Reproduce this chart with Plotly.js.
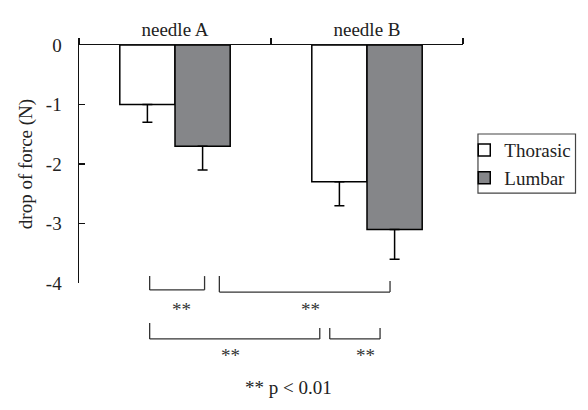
<!DOCTYPE html>
<html>
<head>
<meta charset="utf-8">
<script src="https://cdn.plot.ly/plotly-3.0.1.min.js"></script>
<style>html,body{margin:0;padding:0;background:#fff;}#chart{width:588px;height:410px;}</style>
</head>
<body>
<div id="chart"></div>
<script>
// ---- data ----
var categories = ['needle A', 'needle B'];
var thorasicValues = [-1.0, -2.3];
var thorasicErrors = [0.3, 0.4];
var lumbarValues = [-1.7, -3.1];
var lumbarErrors = [0.4, 0.5];
var yTickVals = [0, -1, -2, -3, -4];
var yTickText = ['0', '-1', '-2', '-3', '-4'];
// significance brackets: x in category units, y (top-left, top-right, bottom) in paper units
var bracketX0 = [-0.132, 0.231, -0.132, 0.806];
var bracketX1 = [0.154, 1.120, 0.754, 1.068];
var bracketYLeft = [0.029, 0.029, -0.168, -0.189];
var bracketYRight = [0.029, 0.008, -0.189, -0.189];
var bracketYBottom = [-0.029, -0.038, -0.235, -0.235];
var starX = [0.032, 0.707, 0.291, 0.991];
var starY = [-0.113, -0.113, -0.305, -0.305];
var starText = ['**', '**', '**', '**'];
var noteText = '** p < 0.01';

var FONT = 'Liberation Serif, Times New Roman, serif';
var FS = 19;

var traces = [
  {
    type: 'bar', name: 'Thorasic', x: categories, y: thorasicValues,
    marker: {color: '#ffffff', line: {color: '#000000', width: 1.5}},
    error_y: {type: 'data', symmetric: false, array: [0, 0], arrayminus: thorasicErrors,
      color: '#000000', thickness: 1.5, width: 5}
  },
  {
    type: 'bar', name: 'Lumbar', x: categories, y: lumbarValues,
    marker: {color: '#858689', line: {color: '#000000', width: 1.5}},
    error_y: {type: 'data', symmetric: false, array: [0, 0], arrayminus: lumbarErrors,
      color: '#000000', thickness: 1.5, width: 5}
  }
];

var shapes = [];
for (var i = 0; i < bracketX0.length; i++) {
  shapes.push({type: 'line', xref: 'x', yref: 'paper', x0: bracketX0[i], x1: bracketX0[i], y0: bracketYLeft[i], y1: bracketYBottom[i], line: {color: '#333', width: 1.3}});
  shapes.push({type: 'line', xref: 'x', yref: 'paper', x0: bracketX0[i], x1: bracketX1[i], y0: bracketYBottom[i], y1: bracketYBottom[i], line: {color: '#333', width: 1.3}});
  shapes.push({type: 'line', xref: 'x', yref: 'paper', x0: bracketX1[i], x1: bracketX1[i], y0: bracketYRight[i], y1: bracketYBottom[i], line: {color: '#333', width: 1.3}});
}
// legend frame
shapes.push({type: 'rect', xref: 'paper', yref: 'paper', x0: 1.039, x1: 1.293, y0: 0.378, y1: 0.626,
  line: {color: '#444', width: 1.2}, fillcolor: 'rgba(0,0,0,0)'});

var annotations = [];
for (var j = 0; j < starX.length; j++) {
  annotations.push({xref: 'x', yref: 'paper', x: starX[j], y: starY[j], text: starText[j], showarrow: false,
    xanchor: 'center', yanchor: 'middle', font: {family: FONT, size: FS, color: '#333'}});
}
annotations.push({xref: 'x', yref: 'paper', x: 0.593, y: -0.437, text: noteText, showarrow: false,
  xanchor: 'center', yanchor: 'middle', font: {family: FONT, size: FS, color: '#222'}});

var layout = {
  width: 588, height: 410,
  margin: {l: 79, r: 123, t: 45, b: 127, pad: 0},
  paper_bgcolor: '#ffffff', plot_bgcolor: '#ffffff',
  font: {family: FONT, size: FS, color: '#222'},
  barmode: 'group', bargap: 0.425, bargroupgap: 0,
  showlegend: true,
  legend: {x: 1.295, xanchor: 'right', y: 0.638, yanchor: 'top', bgcolor: 'rgba(0,0,0,0)',
    borderwidth: 0, font: {family: FONT, size: FS, color: '#222'}, traceorder: 'normal'},
  xaxis: {type: 'category', side: 'top', range: [-0.5, 1.5], showline: true, linecolor: '#111', linewidth: 1.5,
    ticks: 'outside', tickson: 'boundaries', ticklen: 6, tickwidth: 1.5, tickcolor: '#111',
    showgrid: false, zeroline: false, tickfont: {family: FONT, size: FS, color: '#222'}, fixedrange: true},
  yaxis: {range: [-4, 0], showline: true, linecolor: '#111', linewidth: 1.5,
    ticks: 'inside', ticklen: 6, tickwidth: 1.5, tickcolor: '#111',
    tickvals: yTickVals, ticktext: yTickText, ticklabelstandoff: 12,
    showgrid: false, zeroline: false, tickfont: {family: FONT, size: FS, color: '#222'},
    title: {text: 'drop of force (N)', font: {family: FONT, size: FS, color: '#222'}, standoff: 8}, fixedrange: true},
  shapes: shapes,
  annotations: annotations
};

Plotly.newPlot('chart', traces, layout, {displayModeBar: false, staticPlot: true});
</script>
</body>
</html>
